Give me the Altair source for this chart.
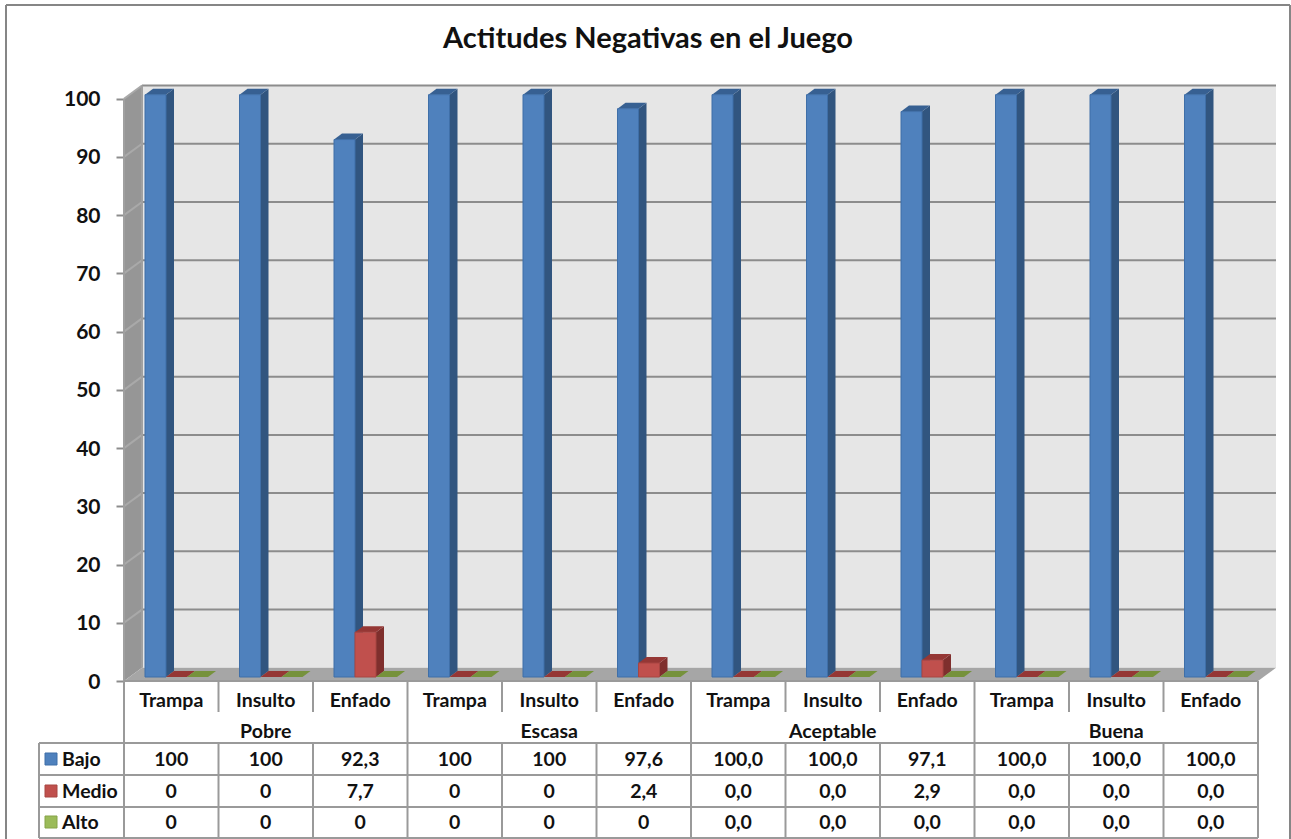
import altair as alt
import pandas as pd

# Table contents, as printed under the columns
levels = ["Pobre", "Escasa", "Aceptable", "Buena"]
attitudes = ["Trampa", "Insulto", "Enfado"]
series_names = ["Bajo", "Medio", "Alto"]
bajo = ["100", "100", "92,3", "100", "100", "97,6", "100,0", "100,0", "97,1", "100,0", "100,0", "100,0"]
medio = ["0", "0", "7,7", "0", "0", "2,4", "0,0", "0,0", "2,9", "0,0", "0,0", "0,0"]
alto = ["0", "0", "0", "0", "0", "0", "0,0", "0,0", "0,0", "0,0", "0,0", "0,0"]
y_ticks = [0, 10, 20, 30, 40, 50, 60, 70, 80, 90, 100]
chart_title = "Actitudes Negativas en el Juego"

# Pixel layout of the sheet
LEFT, TOP, PLOT_W, PLOT_H = 124, 85, 1153, 596
COL = 94.5
UNIT = 5.823
FONT = "Lato"
GRID = "#8C8C8C"
TABLE_LINE = "#9A9A9A"


def ux(px):
    """Horizontal distance in pixels, as category columns."""
    return px / COL


def uy(px):
    """Pixel row on the page, as units of the value axis."""
    return (TOP + PLOT_H - px) / UNIT


xscale = alt.Scale(domain=[0, PLOT_W / COL], zero=False, nice=False)
yscale = alt.Scale(domain=[0, PLOT_H / UNIT], zero=False, nice=False)
X = alt.X("x:Q", scale=xscale, axis=None)
Y = alt.Y("y:Q", scale=yscale, title=None, stack=None)

WALL_DX, WALL_DY = ux(18), 13.2 / UNIT
BAR_DX, BAR_DY = ux(8), 6 / UNIT
BAR_LIFT = 4 / UNIT
BAR_W = ux(21)
BAR_START = ux(21)


def polygon(points, fill):
    """Filled quadrilateral given as x, upper y, lower y columns."""
    df = pd.DataFrame(points, columns=["x", "y", "y2", "id"])
    return (
        alt.Chart(df)
        .mark_area(fill=fill, orient="vertical", opacity=1)
        .encode(x=X, y=Y, y2="y2:Q", detail="id:N")
    )


def segments(rows, color, width=2):
    df = pd.DataFrame(rows, columns=["x", "y", "x2", "y2"])
    return (
        alt.Chart(df)
        .mark_rule(color=color, strokeWidth=width)
        .encode(x=X, y=Y, x2="x2:Q", y2="y2:Q")
    )


def rects(rows, fill, stroke=None):
    df = pd.DataFrame(rows, columns=["x", "y", "x2", "y2"])
    kw = {"stroke": stroke, "strokeWidth": 1} if stroke else {}
    return alt.Chart(df).mark_rect(fill=fill, **kw).encode(x=X, y=Y, x2="x2:Q", y2="y2:Q")


def texts(rows, size=19.5, align="center"):
    df = pd.DataFrame(rows, columns=["x", "y", "label"])
    return (
        alt.Chart(df)
        .mark_text(font=FONT, fontWeight="bold", fontSize=size, align=align, baseline="middle", color="#111111")
        .encode(x=X, y=Y, text="label:N")
    )


n = len(bajo)
layers = []

# Back wall carries the value axis
back_df = pd.DataFrame({"x": [WALL_DX], "x2": [n + WALL_DX], "y": [WALL_DY], "y2": [100 + WALL_DY]})
layers.append(
    alt.Chart(back_df)
    .mark_rect(fill="#E6E6E6")
    .encode(
        x=X,
        x2="x2:Q",
        y=alt.Y(
            "y:Q",
            scale=yscale,
            title=None,
            axis=alt.Axis(
                values=y_ticks,
                format="d",
                domain=False,
                grid=False,
                tickColor=GRID,
                tickWidth=2,
                tickSize=8,
                labelFont=FONT,
                labelFontWeight="bold",
                labelFontSize=21,
                labelColor="#111111",
                labelPadding=16,
                labelOffset=1,
            ),
        ),
        y2="y2:Q",
    )
)

# Left wall and floor
layers.append(
    polygon(
        [[0, 100, 0, "w"], [WALL_DX, 100 + WALL_DY, WALL_DY, "w"]],
        "#969696",
    )
)
layers.append(
    polygon(
        [
            [0, 0, 0, "f"],
            [WALL_DX, WALL_DY, 0, "f"],
            [n, WALL_DY, 0, "f"],
            [n + WALL_DX, WALL_DY, WALL_DY, "f"],
        ],
        "#A6A6A6",
    )
)

# Gridlines on both walls
layers.append(segments([[WALL_DX, t + WALL_DY, n + WALL_DX, t + WALL_DY] for t in y_ticks[1:]], GRID))
layers.append(segments([[0, t, WALL_DX, t + WALL_DY] for t in y_ticks[1:]], "#A9A9A9"))
layers.append(segments([[WALL_DX, WALL_DY, WALL_DX, 100 + WALL_DY], [0, 0, 0, 100]], "#A0A0A0"))

# Columns: three faces per bar, series by series so later bars overlap earlier sides
styles = [
    (bajo, "#4F81BD", "#31557F", "#376092", "#3F6FA8"),
    (medio, "#C0504D", "#7F2F2D", "#953735", "#A84643"),
    (alto, "#9BBB59", "#5F7530", "#76923C", "#86A348"),
]
for s, (labels, front, side, top, edge) in enumerate(styles):
    vals = [float(v.replace(",", ".")) for v in labels]
    side_pts, top_pts, front_rows = [], [], []
    for i, v in enumerate(vals):
        x0 = i + BAR_START + s * BAR_W
        x1 = x0 + BAR_W
        low = BAR_LIFT
        high = v + BAR_LIFT
        side_pts += [
            [x1, high, low, f"{i}"],
            [x1 + BAR_DX, high + BAR_DY, low + BAR_DY, f"{i}"],
        ]
        top_pts += [
            [x0, high, high, f"{i}"],
            [x0 + BAR_DX, high + BAR_DY, high, f"{i}"],
            [x1, high + BAR_DY, high, f"{i}"],
            [x1 + BAR_DX, high + BAR_DY, high + BAR_DY, f"{i}"],
        ]
        if v > 0:
            front_rows.append([x0, low, x1, high])
    layers.append(polygon(side_pts, side))
    layers.append(polygon(top_pts, top))
    layers.append(rects(front_rows, front, edge))

# Data table grid
row_lines = [743, 775, 807, 838]
table_segments = [[0, uy(681), n, uy(681)]]
table_segments += [[ux(39 - LEFT), uy(r), n, uy(r)] for r in row_lines]
table_segments.append([ux(39 - LEFT), uy(743), ux(39 - LEFT), uy(838)])
for i in range(n + 1):
    table_segments.append([i, uy(743), i, uy(838)])
    if i % 3 == 0 or i == n:
        table_segments.append([i, uy(681), i, uy(743)])
    else:
        table_segments.append([i, uy(681), i, uy(712)])
layers.append(segments(table_segments, TABLE_LINE))

# Category headers
layers.append(texts([[i + 0.5, uy(701), attitudes[i % 3]] for i in range(n)]))
layers.append(texts([[3 * g + 1.5, uy(732), name] for g, name in enumerate(levels)]))

# Series rows: colour key, name and one printed value per column
row_centers = [760, 792, 823]
for s, (labels, front, side, top, edge) in enumerate(styles):
    c = row_centers[s]
    layers.append(rects([[ux(45 - LEFT), uy(c - 7), ux(57 - LEFT), uy(c + 5)]], front, edge))
    layers.append(texts([[ux(62 - LEFT), uy(c), series_names[s]]], align="left"))
    layers.append(texts([[i + 0.5, uy(c), lab] for i, lab in enumerate(labels)]))

# Outer frame of the sheet
layers.append(
    segments(
        [
            [ux(6 - LEFT), uy(5), ux(1290 - LEFT), uy(5)],
            [ux(6 - LEFT), uy(5), ux(6 - LEFT), uy(839)],
            [ux(1290 - LEFT), uy(5), ux(1290 - LEFT), uy(839)],
        ],
        "#868686",
    )
)

# Heading, centred over the sheet
layers.append(texts([[ux(648 - LEFT), uy(39), chart_title]], size=29))

chart = (
    alt.layer(*layers)
    .properties(
        width=PLOT_W,
        height=PLOT_H,
        padding={"left": LEFT, "top": TOP, "right": 1291 - LEFT - PLOT_W, "bottom": 839 - TOP - PLOT_H},
        autosize=alt.AutoSizeParams(type="none"),
        background="white",
    )
    .configure_view(strokeWidth=0)
)

chart.save("out.html", embed_options={"renderer": "svg", "actions": False})
